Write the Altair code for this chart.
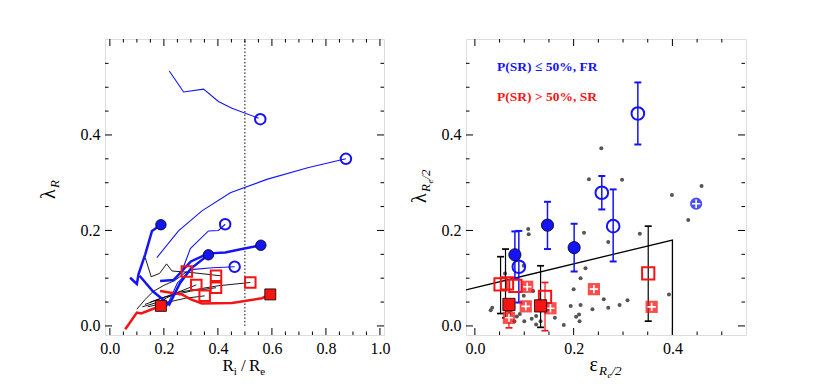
import altair as alt
import pandas as pd

SERIF = "Liberation Serif"
BLUE = "#1414f5"
RED = "#f51414"
W, H = 279, 296

# ================= left panel data: lambda_R profiles =================
thin_blue_1_x = [0.220, 0.273, 0.347, 0.402, 0.452, 0.551]
thin_blue_1_y = [0.534, 0.490, 0.496, 0.470, 0.456, 0.435]
thin_blue_2_x = [0.174, 0.254, 0.341, 0.446, 0.581, 0.736, 0.874]
thin_blue_2_y = [0.143, 0.199, 0.241, 0.279, 0.307, 0.332, 0.350]
thin_blue_3_x = [0.267, 0.298, 0.365, 0.402, 0.427]
thin_blue_3_y = [0.115, 0.162, 0.199, 0.200, 0.213]
thin_blue_4_x = [0.210, 0.250, 0.300, 0.380, 0.462]
thin_blue_4_y = [0.040, 0.090, 0.118, 0.122, 0.124]

thick_blue_1_x = [0.075, 0.100, 0.106, 0.131, 0.156, 0.189]
thick_blue_1_y = [0.101, 0.088, 0.108, 0.150, 0.199, 0.212]
thick_blue_2_x = [0.110, 0.160, 0.220, 0.260, 0.300, 0.365]
thick_blue_2_y = [0.105, 0.072, 0.045, 0.090, 0.120, 0.149]
thick_blue_3_x = [0.186, 0.236, 0.267, 0.300, 0.365, 0.427, 0.489, 0.559]
thick_blue_3_y = [0.094, 0.096, 0.115, 0.135, 0.152, 0.154, 0.161, 0.169]

thick_red_1_x = [0.057, 0.100, 0.116, 0.156, 0.189]
thick_red_1_y = [-0.007, 0.028, 0.026, 0.035, 0.042]
thick_red_2_x = [0.186, 0.267, 0.298, 0.341, 0.452, 0.563, 0.594]
thick_red_2_y = [0.073, 0.066, 0.056, 0.047, 0.048, 0.058, 0.066]

black_1_x = [0.100, 0.130, 0.160, 0.200, 0.240, 0.285]
black_1_y = [0.035, 0.055, 0.072, 0.085, 0.095, 0.114]
black_2_x = [0.131, 0.153, 0.184, 0.210, 0.230, 0.300, 0.410]
black_2_y = [0.143, 0.103, 0.110, 0.130, 0.115, 0.112, 0.105]
black_3_x = [0.120, 0.180, 0.250, 0.320]
black_3_y = [0.040, 0.050, 0.070, 0.086]
black_4_x = [0.140, 0.200, 0.280, 0.351]
black_4_y = [0.040, 0.048, 0.058, 0.063]
black_5_x = [0.130, 0.200, 0.300, 0.393]
black_5_y = [0.045, 0.060, 0.073, 0.080]
black_6_x = [0.150, 0.250, 0.400, 0.520]
black_6_y = [0.050, 0.070, 0.084, 0.091]

L_open_circle_x = [0.557, 0.874, 0.427, 0.462]
L_open_circle_y = [0.433, 0.350, 0.213, 0.124]
L_fill_circle_x = [0.189, 0.365, 0.559]
L_fill_circle_y = [0.212, 0.149, 0.169]
L_fill_square_x = [0.189, 0.594]
L_fill_square_y = [0.042, 0.066]
L_open_square_x = [0.285, 0.320, 0.351, 0.393, 0.393, 0.520]
L_open_square_y = [0.114, 0.086, 0.063, 0.105, 0.080, 0.091]

dotted_x = [0.5]

# ================= right panel data: lambda vs epsilon =================
R_open_circle_x = [0.330, 0.257, 0.280, 0.089]
R_open_circle_y = [0.445, 0.279, 0.209, 0.124]
R_open_circle_lo = [0.380, 0.244, 0.135, 0.049]
R_open_circle_hi = [0.510, 0.314, 0.286, 0.199]
R_fill_circle_x = [0.147, 0.201, 0.081]
R_fill_circle_y = [0.211, 0.164, 0.149]
R_fill_circle_lo = [0.161, 0.114, 0.100]
R_fill_circle_hi = [0.260, 0.214, 0.198]
R_cross_circle_x = [0.448]
R_cross_circle_y = [0.256]

R_open_square_x = [0.052, 0.065, 0.082, 0.142, 0.351]
R_open_square_y = [0.087, 0.089, 0.084, 0.061, 0.110]
R_fill_square_x = [0.069, 0.133]
R_fill_square_y = [0.045, 0.042]
R_cross_square_x = [0.106, 0.103, 0.153, 0.241, 0.358, 0.069]
R_cross_square_y = [0.082, 0.041, 0.037, 0.077, 0.040, 0.017]

black_err_x = [0.052, 0.062, 0.133, 0.351]
black_err_lo = [0.026, 0.017, -0.003, 0.010]
black_err_hi = [0.145, 0.161, 0.126, 0.209]
red_err_x = [0.142, 0.069]
red_err_lo = [-0.010, -0.004]
red_err_hi = [0.091, 0.031]

dots_x = [0.032, 0.035, 0.061, 0.099, 0.108, 0.109, 0.118, 0.099, 0.091, 0.080,
          0.100, 0.115, 0.124, 0.124, 0.133, 0.150, 0.162, 0.180, 0.194, 0.200,
          0.205, 0.211, 0.214, 0.212, 0.214, 0.221, 0.224, 0.238, 0.261, 0.270,
          0.270, 0.293, 0.309, 0.231, 0.256, 0.298, 0.334, 0.393, 0.399, 0.432,
          0.459, 0.078, 0.070, 0.085]
dots_y = [0.033, 0.038, 0.110, 0.126, 0.203, 0.192, 0.073, 0.063, 0.025, 0.010,
          0.010, 0.015, 0.021, 0.003, 0.010, 0.035, 0.017, 0.002, 0.042, 0.077,
          0.019, 0.024, 0.044, 0.010, 0.100, 0.195, 0.121, 0.035, 0.056, 0.038,
          0.176, 0.044, 0.054, 0.307, 0.372, 0.306, 0.193, 0.066, 0.274, 0.222,
          0.293, 0.142, 0.025, 0.020]

bound_x = [-0.02, 0.40, 0.40]
bound_y = [0.075, 0.180, -0.02]

legend_text = ["P(SR) \u2264 50%, FR", "P(SR) > 50%, SR"]
legend_color = [BLUE, RED]
legend_x = [0.045, 0.045]
legend_y = [0.534, 0.471]

# ticks
L_x_major = [0.0, 0.2, 0.4, 0.6, 0.8, 1.0]
L_x_minor = [0.05, 0.1, 0.15, 0.25, 0.3, 0.35, 0.45, 0.5, 0.55, 0.65, 0.7, 0.75, 0.85, 0.9, 0.95]
R_x_major = [0.0, 0.2, 0.4]
R_x_minor = [0.05, 0.1, 0.15, 0.25, 0.3, 0.35, 0.45, 0.5]
y_major = [0.0, 0.2, 0.4]
y_minor = [0.05, 0.1, 0.15, 0.25, 0.3, 0.35, 0.45, 0.5, 0.55]

# ================= helpers =================
LXS = alt.Scale(domain=[-0.018, 1.015], nice=False, zero=False)
RXS = alt.Scale(domain=[-0.018, 0.549], nice=False, zero=False)
YS = alt.Scale(domain=[-0.019, 0.601], nice=False, zero=False)


def axis(vals):
    return alt.Axis(values=vals, format=".1f", labelFont=SERIF, labelFontSize=16,
                    labelColor="black", ticks=False, domain=False, grid=False,
                    labelPadding=5)


def mk(xs_scale, xvals):
    def xe(f):
        return alt.X(f + ":Q", scale=xs_scale, axis=axis(xvals), title=None)
    def ye(f):
        return alt.Y(f + ":Q", scale=YS, axis=axis(y_major), title=None)
    return xe, ye


def series_df(groups):
    rows = []
    for gid, (xs, ys) in enumerate(groups):
        for k, (x, y) in enumerate(zip(xs, ys)):
            rows.append({"id": gid, "k": k, "x": x, "y": y})
    return pd.DataFrame(rows)


def pts(xs, ys, **extra):
    d = {"x": xs, "y": ys}
    d.update(extra)
    return pd.DataFrame(d)


def lines(groups, color, width, xe, ye):
    return alt.Chart(series_df(groups)).mark_line(color=color, strokeWidth=width, clip=True).encode(
        x=xe("x"), y=ye("y"), detail="id:N", order="k:Q")


def tick_layers(xmaj, xmin, xe, ye):
    out = []
    for vals, ln in ((xmaj, 7), (xmin, 3.5)):
        d = pd.DataFrame({"v": vals})
        out.append(alt.Chart(d).mark_rule(color="black", strokeWidth=1).encode(
            x=xe("v"), y=alt.value(H), y2=alt.value(H - ln)))
        out.append(alt.Chart(d).mark_rule(color="black", strokeWidth=1).encode(
            x=xe("v"), y=alt.value(0), y2=alt.value(ln)))
    for vals, ln in ((y_major, 7), (y_minor, 3.5)):
        d = pd.DataFrame({"v": vals})
        out.append(alt.Chart(d).mark_rule(color="black", strokeWidth=1).encode(
            y=ye("v"), x=alt.value(0), x2=alt.value(ln)))
        out.append(alt.Chart(d).mark_rule(color="black", strokeWidth=1).encode(
            y=ye("v"), x=alt.value(W), x2=alt.value(W - ln)))
    return out


DUMMY = pd.DataFrame({"a": [0]})


def title_parts(parts, x, y, angle):
    out = []
    for text, size, style, dx, dy in parts:
        out.append(alt.Chart(DUMMY).mark_text(
            text=text, font=SERIF, fontSize=size, fontStyle=style, color="black",
            align="left", baseline="alphabetic", angle=angle, dx=dx, dy=dy).encode(
            x=alt.value(x), y=alt.value(y)))
    return out


# ================= left panel =================
lxe, lye = mk(LXS, L_x_major)
left_layers = []
left_layers += tick_layers(L_x_major, L_x_minor, lxe, lye)
left_layers.append(alt.Chart(pd.DataFrame({"x": dotted_x, "y0": [0.0], "y1": [0.601]})).mark_rule(
    color="black", strokeWidth=1, strokeDash=[1.5, 2]).encode(x=lxe("x"), y=lye("y0"), y2="y1:Q"))
left_layers.append(lines([(black_1_x, black_1_y), (black_2_x, black_2_y), (black_3_x, black_3_y),
                          (black_4_x, black_4_y), (black_5_x, black_5_y), (black_6_x, black_6_y)],
                         "black", 0.9, lxe, lye))
left_layers.append(lines([(thin_blue_1_x, thin_blue_1_y), (thin_blue_2_x, thin_blue_2_y),
                          (thin_blue_3_x, thin_blue_3_y), (thin_blue_4_x, thin_blue_4_y)],
                         BLUE, 1.1, lxe, lye))
left_layers.append(lines([(thick_red_1_x, thick_red_1_y), (thick_red_2_x, thick_red_2_y)],
                         RED, 2.5, lxe, lye))
left_layers.append(lines([(thick_blue_1_x, thick_blue_1_y), (thick_blue_2_x, thick_blue_2_y),
                          (thick_blue_3_x, thick_blue_3_y)], BLUE, 2.5, lxe, lye))
left_layers.append(alt.Chart(pts(L_open_square_x, L_open_square_y)).mark_point(
    shape="square", filled=False, color=RED, strokeWidth=2, size=110, opacity=1).encode(
    x=lxe("x"), y=lye("y")))
left_layers.append(alt.Chart(pts(L_open_circle_x, L_open_circle_y)).mark_point(
    shape="circle", filled=False, color=BLUE, strokeWidth=2, size=110, opacity=1).encode(
    x=lxe("x"), y=lye("y")))
left_layers.append(alt.Chart(pts(L_fill_circle_x, L_fill_circle_y)).mark_point(
    shape="circle", filled=True, fill=BLUE, stroke="black", strokeWidth=0.8, size=110, opacity=1).encode(
    x=lxe("x"), y=lye("y")))
left_layers.append(alt.Chart(pts(L_fill_square_x, L_fill_square_y)).mark_point(
    shape="square", filled=True, fill=RED, stroke="black", strokeWidth=0.8, size=121, opacity=1).encode(
    x=lxe("x"), y=lye("y")))
left_layers += title_parts([("\u03bb", 20, "normal", -10, 0), ("R", 13, "italic", 1, 4)], -50, 150, 270)
left_layers += title_parts([("R", 17, "normal", -22, 0), ("i", 11, "normal", -10.7, 4),
                            ("/", 17, "normal", -3.5, 0), ("R", 17, "normal", 4.5, 0),
                            ("e", 11, "normal", 15.8, 4)],
                           W / 2, H + 36, 0)
left = alt.layer(*left_layers).properties(width=W, height=H)

# ================= right panel =================
rxe, rye = mk(RXS, R_x_major)
CROSS = "M-1,0H1M0,-1V1"
right_layers = []
right_layers += tick_layers(R_x_major, R_x_minor, rxe, rye)
right_layers.append(alt.Chart(pts(dots_x, dots_y)).mark_circle(color="#555555", size=16, opacity=1).encode(
    x=rxe("x"), y=rye("y")))
right_layers.append(alt.Chart(series_df([(bound_x, bound_y)])).mark_line(
    color="black", strokeWidth=1.3, clip=True).encode(x=rxe("x"), y=rye("y"), order="k:Q"))

ebk = pd.DataFrame({"x": black_err_x, "lo": black_err_lo, "hi": black_err_hi})
erd = pd.DataFrame({"x": red_err_x, "lo": red_err_lo, "hi": red_err_hi})
ebl = pd.DataFrame({"x": R_open_circle_x + R_fill_circle_x,
                    "lo": R_open_circle_lo + R_fill_circle_lo,
                    "hi": R_open_circle_hi + R_fill_circle_hi})
for d, c, sw in ((ebk, "black", 1.2), (erd, RED, 1.2), (ebl, BLUE, 1.5)):
    right_layers.append(alt.Chart(d).mark_rule(color=c, strokeWidth=sw).encode(
        x=rxe("x"), y=rye("lo"), y2="hi:Q"))
    for f in ("lo", "hi"):
        right_layers.append(alt.Chart(d).mark_tick(color=c, orient="horizontal", size=7,
                                                    thickness=sw + 0.5, opacity=1).encode(
            x=rxe("x"), y=rye(f)))

right_layers.append(alt.Chart(pts(R_cross_square_x, R_cross_square_y)).mark_point(
    shape="square", filled=True, fill=RED, strokeWidth=0, size=150, opacity=0.75).encode(
    x=rxe("x"), y=rye("y")))
right_layers.append(alt.Chart(pts(R_cross_square_x + R_cross_circle_x, R_cross_square_y + R_cross_circle_y)).mark_point(
    shape=CROSS, filled=False, stroke="white", strokeWidth=1.6, size=70, opacity=1).encode(
    x=rxe("x"), y=rye("y")))
right_layers.append(alt.Chart(pts(R_open_square_x, R_open_square_y)).mark_point(
    shape="square", filled=False, color=RED, strokeWidth=2, size=150, opacity=1).encode(
    x=rxe("x"), y=rye("y")))
right_layers.append(alt.Chart(pts(R_fill_square_x, R_fill_square_y)).mark_point(
    shape="square", filled=True, fill=RED, stroke="black", strokeWidth=0.8, size=150, opacity=1).encode(
    x=rxe("x"), y=rye("y")))
right_layers.append(alt.Chart(pts(R_cross_circle_x, R_cross_circle_y)).mark_point(
    shape="circle", filled=True, fill=BLUE, strokeWidth=0, size=150, opacity=0.75).encode(
    x=rxe("x"), y=rye("y")))
right_layers.append(alt.Chart(pts(R_cross_circle_x, R_cross_circle_y)).mark_point(
    shape=CROSS, filled=False, stroke="white", strokeWidth=1.6, size=70, opacity=1).encode(
    x=rxe("x"), y=rye("y")))
right_layers.append(alt.Chart(pts(R_open_circle_x, R_open_circle_y)).mark_point(
    shape="circle", filled=False, color=BLUE, strokeWidth=2, size=160, opacity=1).encode(
    x=rxe("x"), y=rye("y")))
right_layers.append(alt.Chart(pts(R_fill_circle_x, R_fill_circle_y)).mark_point(
    shape="circle", filled=True, fill=BLUE, stroke="black", strokeWidth=0.8, size=150, opacity=1).encode(
    x=rxe("x"), y=rye("y")))
right_layers.append(alt.Chart(pts(legend_x, legend_y, t=legend_text, c=legend_color)).mark_text(
    font=SERIF, fontSize=13.5, fontWeight="bold", align="left", baseline="alphabetic").encode(
    x=rxe("x"), y=rye("y"), text="t:N", color=alt.Color("c:N", scale=None)))
right_layers += title_parts([("\u03bb", 20, "normal", -17, 0), ("R", 13, "italic", -6, 4),
                             ("e", 9, "italic", 2.5, 7), ("/2", 13, "italic", 6.5, 4)], -40, 147, 270)
right_layers += title_parts([("\u03b5", 20, "normal", -16, 0), ("R", 13, "italic", -6.5, 4),
                             ("e", 9, "italic", 2, 7), ("/2", 13, "italic", 6, 4)],
                            W / 2, H + 36, 0)
right = alt.layer(*right_layers).properties(width=W + 1, height=H)

chart = alt.hconcat(left, right, spacing=18).properties(
    padding={"left": 30, "top": 30, "right": 5, "bottom": 5}
).configure_view(stroke="black", strokeWidth=1.2).configure(background="white")

chart.save("out.html", embed_options={"renderer": "svg", "actions": False})
